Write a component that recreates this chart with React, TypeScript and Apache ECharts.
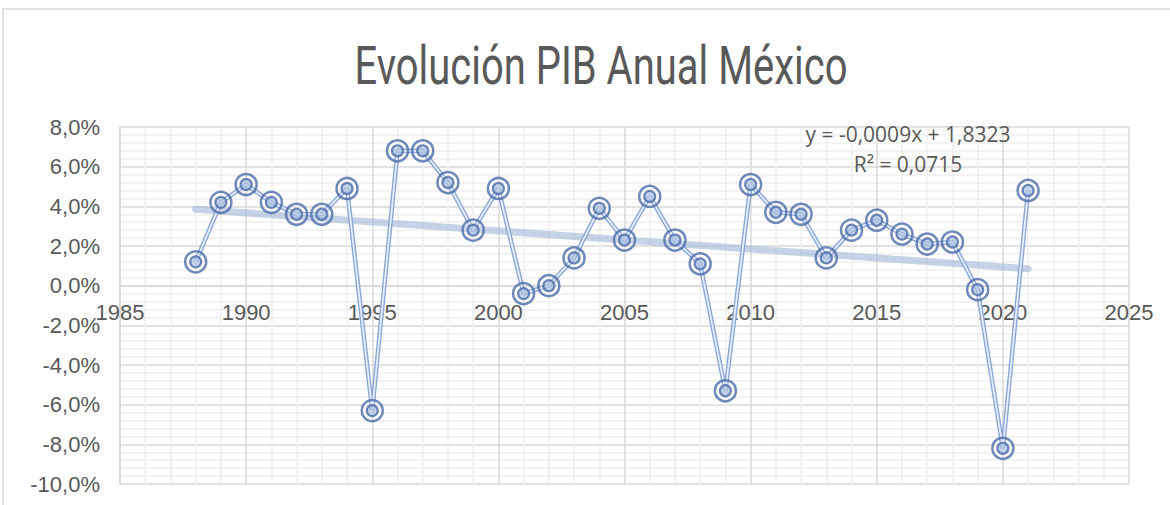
import React, { useEffect, useRef } from "react";
import * as echarts from "echarts";

const years = [1988,1989,1990,1991,1992,1993,1994,1995,1996,1997,1998,1999,2000,2001,2002,2003,2004,2005,2006,2007,2008,2009,2010,2011,2012,2013,2014,2015,2016,2017,2018,2019,2020,2021];
const gdpGrowth = [1.2,4.2,5.1,4.2,3.6,3.6,4.9,-6.3,6.8,6.8,5.2,2.8,4.9,-0.4,0.0,1.4,3.9,2.3,4.5,2.3,1.1,-5.3,5.1,3.7,3.6,1.4,2.8,3.3,2.6,2.1,2.2,-0.2,-8.2,4.8];
const trendYears = [1988, 2021];
const trendValues = [3.85, 0.85];
const titleText = "Evolución PIB Anual México";
const equationText = "y = -0,0009x + 1,8323";
const r2Text = "R² = 0,0715";

export default function App() {
  const ref = useRef<HTMLDivElement>(null);
  useEffect(() => {
    if (!ref.current) return;
    const chart = echarts.init(ref.current, null, { renderer: "svg" });
    const pts = years.map((y, i) => [y, gdpGrowth[i]]);
    const trend = trendYears.map((y, i) => [y, trendValues[i]]);
    const plotH = 505 - 127 - 21;
    const zeroFromBottom = plotH * (10 / 18);
    chart.setOption({
      animation: false,
      backgroundColor: "#ffffff",
      graphic: [
        { type: "rect", shape: { x: 3, y: 9, width: 1180, height: 520 }, style: { fill: "none", stroke: "#d9d9d9", lineWidth: 1.5 }, z: -10 },
        { type: "text", x: 601, y: 66, scaleX: 0.74, style: { text: titleText, font: "54px Roboto", fill: "#595959", textAlign: "center", textVerticalAlign: "middle" } },
        { type: "text", x: 908, y: 134, style: { text: equationText, font: "21px 'Open Sans'", fill: "#595959", textAlign: "center", textVerticalAlign: "middle" }, z: 20 },
        { type: "text", x: 908, y: 164, style: { text: r2Text, font: "21px 'Open Sans'", fill: "#595959", textAlign: "center", textVerticalAlign: "middle" }, z: 20 },
      ],
      grid: { left: 120, right: 41, top: 127, bottom: 21 },
      xAxis: {
        type: "value", min: 1985, max: 2025, interval: 5,
        position: "bottom",
        offset: -zeroFromBottom,
        axisLine: { show: true, onZero: false, lineStyle: { color: "#d9d9d9", width: 1.5 } },
        axisTick: { show: false },
        axisLabel: { color: "#595959", fontSize: 22, fontFamily: "Liberation Sans", margin: 16, showMinLabel: true, showMaxLabel: true, formatter: (v: number) => String(v) },
        splitLine: { show: true, lineStyle: { color: "#d9d9d9", width: 1.5 } },
        minorSplitLine: { show: true, lineStyle: { color: "#efefef", width: 1.5 } },
        minorTick: { show: false, splitNumber: 5 },
      },
      yAxis: {
        type: "value", min: -10, max: 8, interval: 2,
        axisLine: { show: true, lineStyle: { color: "#d9d9d9", width: 1.5 } },
        axisTick: { show: false },
        axisLabel: { color: "#595959", fontSize: 22, fontFamily: "Liberation Sans", margin: 20, formatter: (v: number) => v.toFixed(1).replace(".", ",") + "%" },
        splitLine: { show: true, lineStyle: { color: "#d9d9d9", width: 1.5 } },
        minorSplitLine: { show: true, lineStyle: { color: "#efefef", width: 1.5 } },
        minorTick: { show: false, splitNumber: 5 },
      },
      series: [
        { type: "line", data: trend, symbol: "none", lineStyle: { color: "rgba(160,180,214,0.6)", width: 7, cap: "round" }, z: 2 },
        { type: "line", data: pts, symbol: "none", lineStyle: { color: "#8aa6d8", width: 4.5 }, z: 3 },
        { type: "line", data: pts, symbol: "none", lineStyle: { color: "rgba(255,255,255,0.8)", width: 1.8 }, z: 4 },
        { type: "scatter", data: pts, symbol: "circle", symbolSize: 21, itemStyle: { color: "rgba(255,255,255,0.15)", borderColor: "#4a6aa8", borderWidth: 2.5 }, z: 5 },
        { type: "scatter", data: pts, symbol: "circle", symbolSize: 11, itemStyle: { color: "rgba(168,189,224,0.8)", borderColor: "#4a6aa8", borderWidth: 2.2 }, z: 6 },
      ],
    });
    return () => chart.dispose();
  }, []);
  return <div ref={ref} style={{ position: "fixed", left: 0, top: 0, width: 1170, height: 505 }} />;
}
